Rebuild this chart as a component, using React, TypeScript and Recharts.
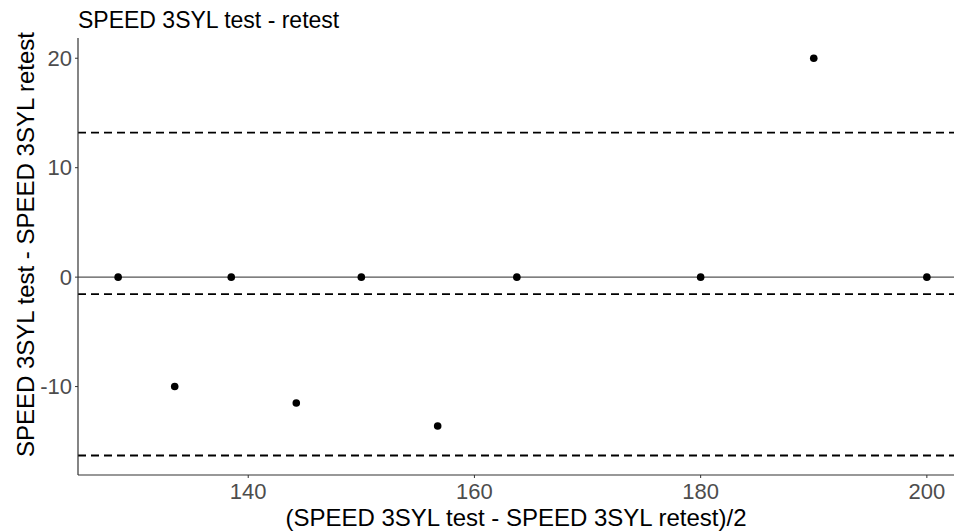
import { ReferenceLine, Scatter, ScatterChart, XAxis, YAxis } from "recharts";

// mean of test and retest (x) and their difference (y)
const means = [128.5, 133.5, 138.5, 144.25, 150, 156.75, 163.75, 180, 190, 200];
const diffs = [0, -10, 0, -11.5, 0, -13.6, 0, 0, 20, 0];

const meanDiff = -1.55;
const upperLoa = 13.2;
const lowerLoa = -16.3;

const xTicks = [140, 160, 180, 200];
const yTicks = [-10, 0, 10, 20];

const points = means.map((m, i) => ({ x: m, y: diffs[i] }));

const font = "'Liberation Sans', Arial, sans-serif";

const Dot = (props: any) => <circle cx={props.cx} cy={props.cy} r={3.8} fill="#000" />;

export default function App() {
  return (
    <div style={{ position: "absolute", left: 0, top: 0, width: 954, height: 531, fontFamily: font }}>
      <div
        style={{
          position: "absolute",
          left: 78,
          top: 9,
          fontSize: 23,
          lineHeight: "22px",
          color: "#000",
          whiteSpace: "nowrap",
        }}
      >
        SPEED 3SYL test - retest
      </div>
      <ScatterChart width={954} height={531} margin={{ top: 38, right: 0, bottom: 0, left: 0 }}>
        <XAxis
          type="number"
          dataKey="x"
          domain={[124.95, 202.4]}
          ticks={xTicks}
          allowDataOverflow
          height={56}
          tickSize={3}
          tickMargin={5}
          tick={{ fill: "#4d4d4d", fontSize: 22, fontFamily: font }}
          stroke="#333"
          axisLine={{ stroke: "#333", strokeWidth: 1.2 }}
          label={{
            value: "(SPEED 3SYL test - SPEED 3SYL retest)/2",
            position: "center",
            dy: 14,
            fill: "#000",
            fontSize: 24,
            fontFamily: font,
          }}
        />
        <YAxis
          type="number"
          dataKey="y"
          domain={[-18.08, 21.85]}
          ticks={yTicks}
          allowDataOverflow
          width={78}
          tickSize={3}
          tickMargin={3}
          tick={{ fill: "#4d4d4d", fontSize: 22, fontFamily: font }}
          stroke="#333"
          axisLine={{ stroke: "#333", strokeWidth: 1.2 }}
          label={{
            value: "SPEED 3SYL test - SPEED 3SYL retest",
            position: "center",
            angle: -90,
            dx: -14,
            dy: -12,
            fill: "#000",
            fontSize: 24,
            fontFamily: font,
          }}
        />
        <ReferenceLine y={0} stroke="#555" strokeWidth={1.2} />
        <ReferenceLine y={upperLoa} stroke="#000" strokeWidth={1.8} strokeDasharray="8 5" />
        <ReferenceLine y={meanDiff} stroke="#000" strokeWidth={1.8} strokeDasharray="8 5" />
        <ReferenceLine y={lowerLoa} stroke="#000" strokeWidth={1.8} strokeDasharray="8 5" />
        <Scatter data={points} shape={Dot} isAnimationActive={false} />
      </ScatterChart>
    </div>
  );
}
